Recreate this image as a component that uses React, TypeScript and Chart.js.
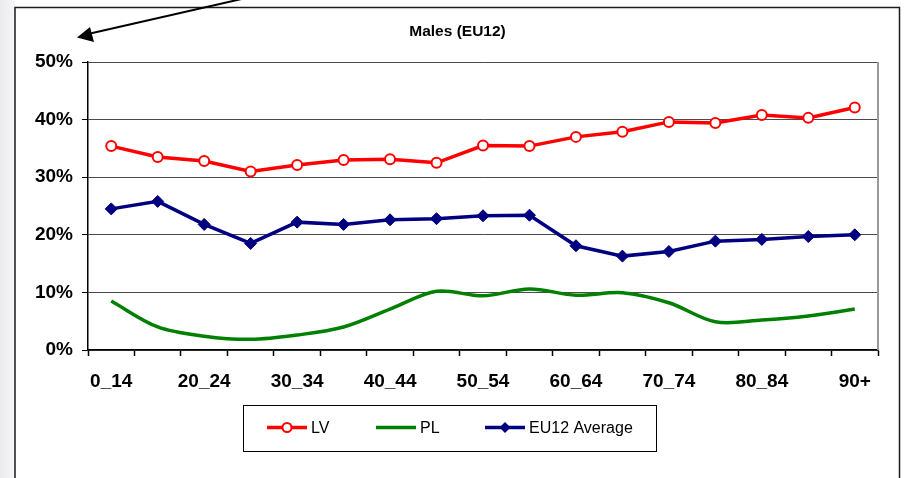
import React, { useEffect, useRef } from "react";
import { Chart, registerables } from "chart.js";

Chart.register(...registerables);

const categories = [
  "0_14", "15_19", "20_24", "25_29", "30_34", "35_39", "40_44", "45_49", "50_54",
  "55_59", "60_64", "65_69", "70_74", "75_79", "80_84", "85_89", "90+",
];
const lvValues = [35.4, 33.5, 32.8, 31.0, 32.1, 33.0, 33.1, 32.5, 35.5, 35.4, 37.0, 37.9, 39.6, 39.4, 40.8, 40.3, 42.1];
const plValues = [8.5, 4.0, 2.4, 1.85, 2.6, 4.0, 7.1, 10.2, 9.4, 10.6, 9.5, 9.95, 8.2, 4.9, 5.2, 5.9, 7.1];
const eu12Values = [24.5, 25.8, 21.8, 18.5, 22.2, 21.8, 22.6, 22.8, 23.3, 23.4, 18.1, 16.3, 17.1, 18.9, 19.2, 19.7, 20.0];
const seriesNames = ["LV", "PL", "EU12 Average"];
const titleText = "Males (EU12)";
const yMin = 0;
const yMax = 50;
const yStep = 10;

const FONT = "'Liberation Sans', Arial, sans-serif";
const W = 905;
const H = 478;

const RED = "#ff0000";
const GREEN = "#008000";
const NAVY = "#000080";

function drawDiamond(ctx: CanvasRenderingContext2D, x: number, y: number, r: number) {
  ctx.beginPath();
  ctx.moveTo(x, y - r);
  ctx.lineTo(x + r, y);
  ctx.lineTo(x, y + r);
  ctx.lineTo(x - r, y);
  ctx.closePath();
  ctx.fill();
}

const decorPlugin = {
  id: "decor",
  beforeDraw(chart: any) {
    const ctx: CanvasRenderingContext2D = chart.ctx;
    ctx.save();
    ctx.fillStyle = "#ffffff";
    ctx.fillRect(0, 0, W, H);
    const g = ctx.createLinearGradient(0, 0, 15, 0);
    g.addColorStop(0, "#eaeaee");
    g.addColorStop(1, "#f7f7f9");
    ctx.fillStyle = g;
    ctx.fillRect(0, 0, 15, H);
    ctx.restore();
  },
  beforeDatasetsDraw(chart: any) {
    const ctx: CanvasRenderingContext2D = chart.ctx;
    const a = chart.chartArea;
    ctx.save();
    ctx.strokeStyle = "#999999";
    ctx.lineWidth = 2;
    ctx.beginPath();
    ctx.moveTo(a.right, a.top);
    ctx.lineTo(a.right, a.bottom);
    ctx.stroke();
    ctx.restore();
  },
  afterDraw(chart: any) {
    const ctx: CanvasRenderingContext2D = chart.ctx;
    ctx.save();
    // outer frame
    ctx.strokeStyle = "#1a1a1a";
    ctx.lineWidth = 1.5;
    ctx.strokeRect(15, 7.5, 884.5, H + 10);

    // arrow
    ctx.strokeStyle = "#000";
    ctx.fillStyle = "#000";
    ctx.lineWidth = 2;
    ctx.beginPath();
    ctx.moveTo(246, -2);
    ctx.lineTo(88, 34);
    ctx.stroke();
    ctx.beginPath();
    ctx.moveTo(77, 37.5);
    ctx.lineTo(90, 27);
    ctx.lineTo(94, 42);
    ctx.closePath();
    ctx.fill();

    // title
    ctx.fillStyle = "#000";
    ctx.font = `bold 15.5px ${FONT}`;
    ctx.textAlign = "center";
    ctx.textBaseline = "middle";
    ctx.fillText(titleText, 457.5, 32);

    // legend
    ctx.strokeStyle = "#000";
    ctx.lineWidth = 1;
    ctx.strokeRect(243.5, 405.5, 413, 46);
    const ly = 427.5;
    ctx.font = `16px ${FONT}`;
    ctx.textAlign = "left";
    ctx.textBaseline = "middle";
    const items = [
      { x: 267, color: RED, lw: 3.5, marker: "circle", tx: 311 },
      { x: 376, color: GREEN, lw: 3.5, marker: "none", tx: 420 },
      { x: 485, color: NAVY, lw: 3.5, marker: "diamond", tx: 529 },
    ];
    items.forEach((it, i) => {
      ctx.strokeStyle = it.color;
      ctx.lineWidth = it.lw;
      ctx.beginPath();
      ctx.moveTo(it.x, ly);
      ctx.lineTo(it.x + 40, ly);
      ctx.stroke();
      const cx = it.x + 20;
      if (it.marker === "circle") {
        ctx.fillStyle = "#fff";
        ctx.strokeStyle = RED;
        ctx.lineWidth = 2;
        ctx.beginPath();
        ctx.arc(cx, ly, 4.5, 0, Math.PI * 2);
        ctx.fill();
        ctx.stroke();
      } else if (it.marker === "diamond") {
        ctx.fillStyle = NAVY;
        drawDiamond(ctx, cx, ly, 5.5);
      }
      ctx.fillStyle = "#000";
      ctx.fillText(seriesNames[i], it.tx, ly + 1);
    });
    ctx.restore();
  },
};

export default function App() {
  const ref = useRef<HTMLCanvasElement | null>(null);

  useEffect(() => {
    if (!ref.current) return;
    const chart = new Chart(ref.current, {
      type: "line",
      data: {
        labels: categories,
        datasets: [
          {
            label: seriesNames[0],
            data: lvValues,
            borderColor: RED,
            borderWidth: 3.5,
            backgroundColor: "#ffffff",
            pointBackgroundColor: "#ffffff",
            pointBorderColor: RED,
            pointBorderWidth: 2,
            pointRadius: 5,
            pointStyle: "circle",
            tension: 0,
          },
          {
            label: seriesNames[1],
            data: plValues,
            borderColor: GREEN,
            borderWidth: 3.5,
            pointRadius: 0,
            tension: 0.33,
          },
          {
            label: seriesNames[2],
            data: eu12Values,
            borderColor: NAVY,
            borderWidth: 3.5,
            backgroundColor: NAVY,
            pointBackgroundColor: NAVY,
            pointBorderColor: NAVY,
            pointBorderWidth: 1,
            pointRadius: 6,
            pointStyle: "rectRot",
            tension: 0,
          },
        ],
      },
      options: {
        responsive: false,
        animation: false,
        events: [],
        layout: { padding: { top: 62, right: 27, bottom: 68, left: 0 } },
        plugins: {
          legend: { display: false },
          title: { display: false },
          tooltip: { enabled: false },
        },
        scales: {
          x: {
            offset: true,
            grid: {
              offset: true,
              drawOnChartArea: false,
              drawTicks: true,
              tickLength: 6,
              tickColor: "#000",
              tickWidth: 1.5,
            },
            border: { color: "#000", width: 1.5 },
            ticks: {
              autoSkip: false,
              maxRotation: 0,
              minRotation: 0,
              padding: 14,
              color: "#000",
              font: { family: FONT, size: 19, weight: "bold" },
              callback: (_v: any, i: number) => (i % 2 === 0 ? categories[i] : ""),
            },
            afterFit: (s: any) => {
              s.height = 60;
            },
          },
          y: {
            min: yMin,
            max: yMax,
            ticks: {
              stepSize: yStep,
              padding: 9,
              color: "#000",
              font: { family: FONT, size: 19, weight: "bold" },
              callback: (v: any) => `${v}%`,
            },
            grid: {
              color: "#4a4a4a",
              lineWidth: 1,
              tickLength: 6,
              tickColor: "#000",
            },
            border: { color: "#000", width: 1.5 },
            afterFit: (s: any) => {
              s.width = 88;
            },
          },
        },
      },
      plugins: [decorPlugin],
    });
    return () => chart.destroy();
  }, []);

  return (
    <div style={{ position: "fixed", left: 0, top: 0, width: W, height: H }}>
      <canvas ref={ref} width={W} height={H} style={{ width: W, height: H, display: "block" }} />
    </div>
  );
}
